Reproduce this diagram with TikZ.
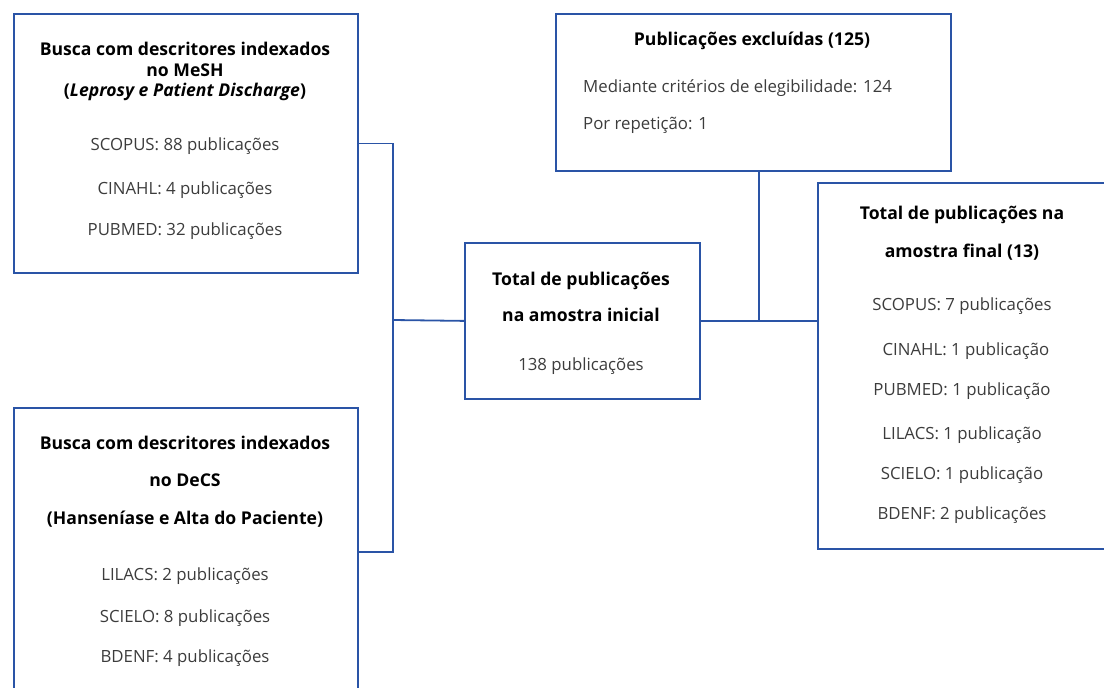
\documentclass[tikz,border=0pt]{standalone}
\usepackage{fontspec}
\setmainfont{Open Sans}
\definecolor{lineblue}{RGB}{42,84,166}
\definecolor{txtgray}{RGB}{60,60,60}
\begin{document}
\begin{tikzpicture}[x=1pt,y=-1pt,
 box/.style={draw=lineblue,line width=1.8pt,rectangle,anchor=north west,inner sep=0pt},
 conn/.style={draw=lineblue,line width=1.8pt,line cap=rect},
 ttl/.style={font=\fontsize{17.6}{20}\selectfont\bfseries,text=black,anchor=mid,inner sep=0pt},
 bdy/.style={font=\fontsize{16.8}{20}\selectfont,text=txtgray,anchor=mid,inner sep=0pt}]
\clip (0,0) rectangle (1104,688);
% boxes
\node[box,minimum width=344pt,minimum height=259pt] (A) at (13,13) {};
\node[box,minimum width=344pt,minimum height=288pt] (B) at (13,407) {};
\node[box,minimum width=395pt,minimum height=157pt] (E) at (555,13) {};
\node[box,minimum width=235pt,minimum height=156pt] (C) at (464,242) {};
\node[box,minimum width=320pt,minimum height=366pt] (F) at (817,182) {};
% box A texts
\node[ttl] (a1) at (185,53) {Busca com descritores indexados};
\node[ttl] (a2) at (185,74) {no MeSH};
\node[ttl] (a3) at (185,94) {(\textit{Leprosy e Patient Discharge})};
\node[bdy] (a4) at (185,148) {SCOPUS: 88 publicações};
\node[bdy] (a5) at (185,192) {CINAHL: 4 publicações};
\node[bdy] (a6) at (185,233) {PUBMED: 32 publicações};
% box B texts
\node[ttl] (b1) at (185,447) {Busca com descritores indexados};
\node[ttl] (b2) at (185,484) {no DeCS};
\node[ttl] (b3) at (185,522) {(Hanseníase e Alta do Paciente)};
\node[bdy] (b4) at (185,578) {LILACS: 2 publicações};
\node[bdy] (b5) at (185,620) {SCIELO: 8 publicações};
\node[bdy] (b6) at (185,660) {BDENF: 4 publicações};
% excluded box texts
\node[ttl] (e1) at (752,43) {Publicações excluídas (125)};
\node[bdy,anchor=mid west] (e2) at (583,90) {Mediante critérios de elegibilidade: 124};
\node[bdy,anchor=mid west] (e3) at (583,127) {Por repetição: 1};
% center box texts
\node[ttl] (c1) at (581,283) {Total de publicações};
\node[ttl] (c2) at (581,319) {na amostra inicial};
\node[bdy] (c3) at (581,368) {138 publicações};
% final box texts
\node[ttl] (f1) at (962,217) {Total de publicações na};
\node[ttl] (f2) at (962,255) {amostra final (13)};
\node[bdy] (f3) at (962,308) {SCOPUS: 7 publicações};
\node[bdy] (f4) at (966,353) {CINAHL: 1 publicação};
\node[bdy] (f5) at (962,393) {PUBMED: 1 publicação};
\node[bdy] (f6) at (962,437) {LILACS: 1 publicação};
\node[bdy] (f7) at (962,477) {SCIELO: 1 publicação};
\node[bdy] (f8) at (962,517) {BDENF: 2 publicações};
% connectors
\coordinate (jA) at (393,320);
\coordinate (jE) at ([xshift=5.5pt]E.south);
\draw[conn] (A.east) -- (A.east -| jA) -- (B.east -| jA) -- (B.east);
\draw[conn] (jA) -- (C.west);
\draw[conn] (C.east) -- (C.east -| F.west);
\draw[conn] (jE) -- (jE |- C.east);
\end{tikzpicture}
\end{document}
